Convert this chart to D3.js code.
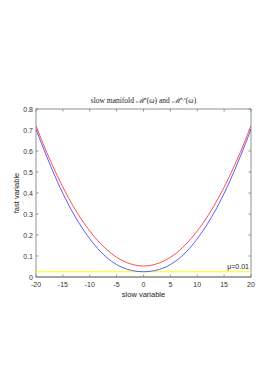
<!DOCTYPE html>
<html><head><meta charset="utf-8">
<script src="https://cdn.jsdelivr.net/npm/d3@7"></script>
<style>body{margin:0;background:#fff}svg{display:block}</style>
</head><body>
<script>
const xs = [-20,-18,-16,-14,-12,-10,-8,-6,-4,-2,0,2,4,6,8,10,12,14,16,18,20];
const redVals = [0.720,0.593,0.480,0.379,0.292,0.219,0.159,0.112,0.079,0.059,0.052,0.059,0.079,0.112,0.159,0.219,0.292,0.379,0.480,0.593,0.720];
const blueVals = [0.703,0.573,0.453,0.347,0.257,0.182,0.121,0.076,0.046,0.030,0.025,0.030,0.046,0.076,0.121,0.182,0.257,0.347,0.453,0.573,0.703];
const yellowLevel = 0.025;
const xTicks = [-20,-15,-10,-5,0,5,10,15,20];
const yTicks = [0,0.1,0.2,0.3,0.4,0.5,0.6,0.7,0.8];
const muLabel = "μ=0.01";

const W=277,H=392;
const L=36,R=251,T=109,B=277;
const svg=d3.select("body").append("svg").attr("width",W).attr("height",H);
const x=d3.scaleLinear().domain([-20,20]).range([L,R]);
const y=d3.scaleLinear().domain([0,0.8]).range([B,T]);
const axCol="#777";

svg.append("rect").attr("x",L).attr("y",T).attr("width",R-L).attr("height",B-T)
  .attr("fill","none").attr("stroke",axCol).attr("stroke-width",0.8);

const tl=2.5;
xTicks.forEach(t=>{
  svg.append("line").attr("x1",x(t)).attr("x2",x(t)).attr("y1",B).attr("y2",B-tl).attr("stroke",axCol).attr("stroke-width",0.8);
  svg.append("line").attr("x1",x(t)).attr("x2",x(t)).attr("y1",T).attr("y2",T+tl).attr("stroke",axCol).attr("stroke-width",0.8);
  svg.append("text").attr("x",x(t)).attr("y",B+10).attr("text-anchor","middle")
    .attr("font-family","Liberation Sans, Arial, sans-serif").attr("font-size",7).attr("fill","#333").text(t);
});
yTicks.forEach(t=>{
  svg.append("line").attr("x1",L).attr("x2",L+tl).attr("y1",y(t)).attr("y2",y(t)).attr("stroke",axCol).attr("stroke-width",0.8);
  svg.append("line").attr("x1",R).attr("x2",R-tl).attr("y1",y(t)).attr("y2",y(t)).attr("stroke",axCol).attr("stroke-width",0.8);
  svg.append("text").attr("x",L-3).attr("y",y(t)+2.5).attr("text-anchor","end")
    .attr("font-family","Liberation Sans, Arial, sans-serif").attr("font-size",7).attr("fill","#333").text(t===0?"0":t.toFixed(1));
});
svg.append("line").attr("x1",L).attr("x2",R).attr("y1",B).attr("y2",B).attr("stroke","#999").attr("stroke-width",1.5);

svg.append("clipPath").attr("id","c").append("rect").attr("x",L).attr("y",T).attr("width",R-L).attr("height",B-T);
const g=svg.append("g").attr("clip-path","url(#c)");
const line=d3.line().x(d=>x(d[0])).y(d=>y(d[1])).curve(d3.curveMonotoneX);

g.append("path").datum([[-20,yellowLevel],[20,yellowLevel]]).attr("d",line).attr("fill","none").attr("stroke","#ffff00").attr("stroke-width",1.1);
g.append("path").datum(xs.map((v,i)=>[v,blueVals[i]])).attr("d",line).attr("fill","none").attr("stroke","#4a4aff").attr("stroke-width",0.9);
g.append("path").datum(xs.map((v,i)=>[v,redVals[i]])).attr("d",line).attr("fill","none").attr("stroke","#ff3b3b").attr("stroke-width",0.9);

svg.append("text").attr("x",(L+R)/2).attr("y",297).attr("text-anchor","middle")
  .attr("font-family","Liberation Sans, Arial, sans-serif").attr("font-size",7.5).attr("fill","#222").text("slow variable");
svg.append("text").attr("transform",`translate(19,${(T+B)/2}) rotate(-90)`).attr("text-anchor","middle")
  .attr("font-family","Liberation Sans, Arial, sans-serif").attr("font-size",7.5).attr("fill","#222").text("fast variable");

const title=svg.append("text").attr("x",(L+R)/2).attr("y",103).attr("text-anchor","middle")
  .attr("font-family","Liberation Serif, DejaVu Serif, serif").attr("font-size",7.5).attr("fill","#222");
title.append("tspan").text("slow manifold ");
title.append("tspan").attr("font-style","italic").text("ℳ");
title.append("tspan").attr("font-size",5).attr("dy",-3).attr("font-style","italic").text("ε");
title.append("tspan").attr("dy",3).text("(");
title.append("tspan").attr("font-style","italic").text("ω");
title.append("tspan").text(") and ");
title.append("tspan").attr("font-style","italic").text("ℳ");
title.append("tspan").attr("font-size",5).attr("dy",-3).attr("font-style","italic").text("s,ε");
title.append("tspan").attr("dy",3).text("(");
title.append("tspan").attr("font-style","italic").text("ω");
title.append("tspan").text(")");

svg.append("text").attr("x",R-2).attr("y",y(yellowLevel)-2.5).attr("text-anchor","end")
  .attr("font-family","Liberation Sans, Arial, sans-serif").attr("font-size",7).attr("fill","#222").text(muLabel);
</script>
</body></html>
